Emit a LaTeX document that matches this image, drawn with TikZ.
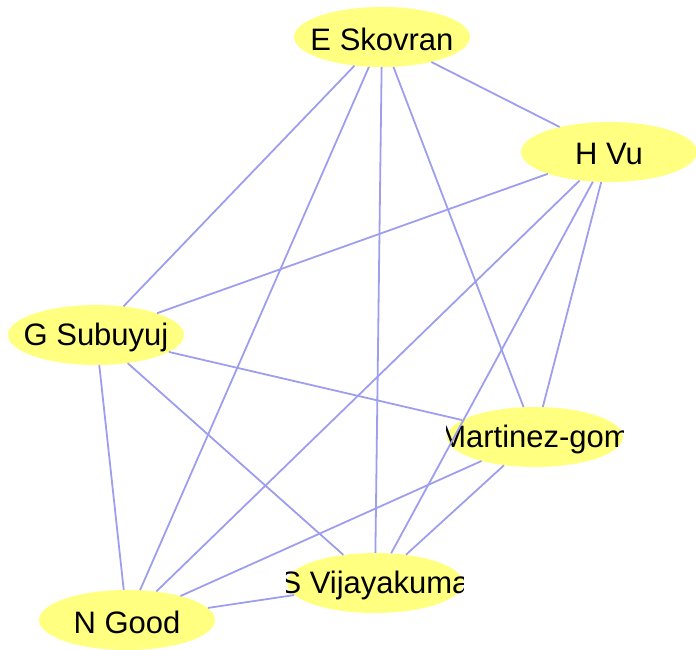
\documentclass[tikz,border=0pt]{standalone}
\usepackage{fontspec}
\setmainfont{Liberation Sans}
\usetikzlibrary{shapes.geometric}
\definecolor{nodeyellow}{RGB}{255,255,128}
\definecolor{edgeblue}{RGB}{158,158,238}
\tikzset{
  person/.style={ellipse, fill=nodeyellow, minimum width=176pt, minimum height=60pt, inner sep=0pt},
  who/.style={font=\fontsize{31}{31}\selectfont, inner sep=0pt, yshift=-2pt},
  tie/.style={draw=edgeblue, line width=1.8pt}
}
% label clipped to the box of its ellipse
\newcommand{\personLabel}[3]{%
  \begin{scope}
    \clip (#1.west |- #1.north) rectangle (#1.east |- #1.south);
    \node[who] (#2) at (#1) {#3};
  \end{scope}}

\begin{document}
\begin{tikzpicture}[x=1pt,y=-1pt]
\useasboundingbox (0,0) rectangle (696,650);

\node[person] (skovran)    at (382,37)  {};
\node[person] (vu)         at (609,152) {};
\node[person] (subuyuj)    at (96,335)  {};
\node[person] (martinez)   at (535,437) {};
\node[person] (vijayakuma) at (375,583) {};
\node[person] (good)       at (127,620) {};

\personLabel{skovran}{skovranText}{E Skovran}
\personLabel{vu}{vuText}{H Vu}
\personLabel{subuyuj}{subuyujText}{G Subuyuj}
\personLabel{martinez}{martinezText}{Martinez-gom}
\personLabel{vijayakuma}{vijayakumaText}{S Vijayakuma}
\personLabel{good}{goodText}{N Good}

\draw[tie] (skovran) -- (vu);
\draw[tie] (skovran) -- (subuyuj);
\draw[tie] (skovran) -- (good);
\draw[tie] (skovran) -- (vijayakuma);
\draw[tie] (skovran) -- (martinez);
\draw[tie] (vu) -- (subuyuj);
\draw[tie] (vu) -- (good);
\draw[tie] (vu) -- (vijayakuma);
\draw[tie] (vu) -- (martinez);
\draw[tie] (subuyuj) -- (martinez);
\draw[tie] (subuyuj) -- (vijayakuma);
\draw[tie] (subuyuj) -- (good);
\draw[tie] (martinez) -- (good);
\draw[tie] (martinez) -- (vijayakuma);
\draw[tie] (vijayakuma) -- (good);
\end{tikzpicture}
\end{document}
